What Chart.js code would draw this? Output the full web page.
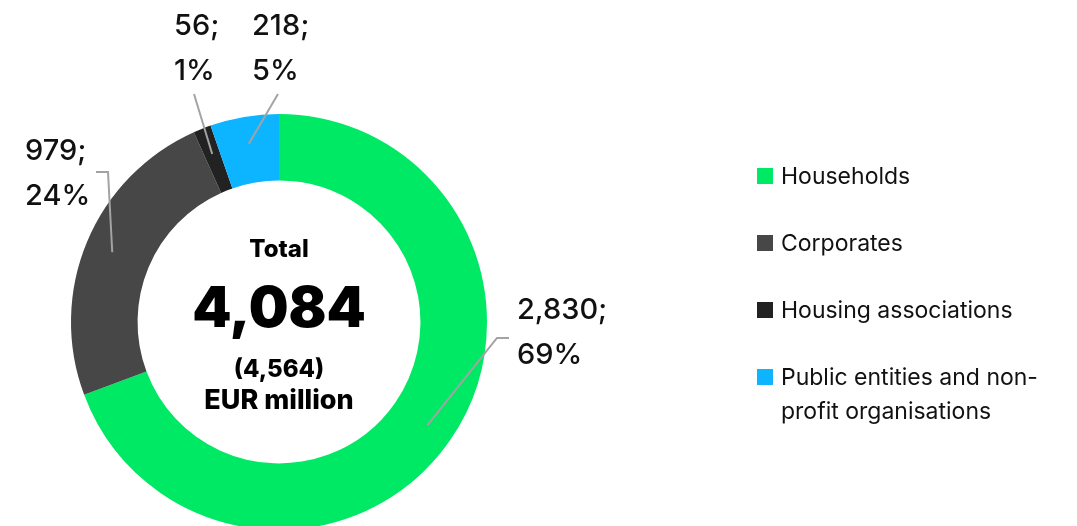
<!DOCTYPE html>
<html lang="en">
<head>
    <meta charset="UTF-8">
    <title>Loans by customer group</title>
    <script src="https://cdn.jsdelivr.net/npm/chart.js"></script>
    <style>
        html, body {
            margin: 0;
            padding: 0;
            background: #fff;
            overflow: hidden;
        }
        #wrap {
            position: absolute;
            left: 0;
            top: 0;
            width: 1077px;
            height: 540px;
        }
        #legend {
            position: absolute;
            left: 757px;
            top: 159px;
            width: 310px;
            font-family: "Inter", "Liberation Sans", sans-serif;
            font-size: 23px;
            color: #111;
        }
        .item {
            position: relative;
            padding-left: 24px;
            line-height: 34px;
            margin-bottom: 33px;
        }
        .swatch {
            position: absolute;
            left: 0;
            top: 9px;
            width: 16px;
            height: 16px;
        }
    </style>
</head>
<body>
    <div id="wrap"><canvas id="loanChart" width="1077" height="540"></canvas></div>
    <div id="legend"></div>

    <script>
        const categories = ['Households', 'Corporates', 'Housing associations', 'Public entities and non-profit organisations'];
        const amounts = [2830, 979, 56, 218];
        const shares = ['69%', '24%', '1%', '5%'];
        const colors = ['#00e965', '#474747', '#222222', '#0db4ff'];
        const totalText = '4,084';
        const lastYearText = '(4,564)';

        // where each label sits, relative to the chart centre (style only)
        const labelStyle = [
            { tx: 238, ty: -12, elbow: [218, 16], bend: [230, 16] },
            { tx: -254, ty: -171, elbow: [-171, -150], bend: [-183, -150] },
            { tx: -105, ty: -296, elbow: [-85, -228] },
            { tx: -27, ty: -296, elbow: [-1, -228] }
        ];

        // Data labels, leader lines and centre text
        const overlay = {
            id: 'overlay',
            afterDraw(chart) {
                const ctx = chart.ctx;
                const arcs = chart.getDatasetMeta(0).data;
                const cx = arcs[0].x, cy = arcs[0].y;
                ctx.save();
                arcs.forEach((arc, i) => {
                    const p = arc.getProps(['startAngle', 'endAngle', 'innerRadius', 'outerRadius']);
                    const mid = (p.startAngle + p.endAngle) / 2;
                    const r = (p.innerRadius + p.outerRadius) / 2 + 6;
                    const ax = cx + Math.cos(mid) * r;
                    const ay = cy + Math.sin(mid) * r;
                    const s = labelStyle[i];
                    ctx.strokeStyle = '#a3a3a3';
                    ctx.lineWidth = 2;
                    ctx.beginPath();
                    if (s.bend) {
                        ctx.moveTo(cx + s.bend[0], cy + s.bend[1]);
                        ctx.lineTo(cx + s.elbow[0], cy + s.elbow[1]);
                    } else {
                        ctx.moveTo(cx + s.elbow[0], cy + s.elbow[1]);
                    }
                    ctx.lineTo(ax, ay);
                    ctx.stroke();

                    ctx.fillStyle = '#111';
                    ctx.font = '500 29px Inter, "Liberation Sans", sans-serif';
                    ctx.textAlign = 'left';
                    ctx.textBaseline = 'middle';
                    ctx.fillText(amounts[i].toLocaleString('en-US') + ';', cx + s.tx, cy + s.ty);
                    ctx.fillText(shares[i], cx + s.tx, cy + s.ty + 45);
                });

                ctx.textAlign = 'center';
                ctx.textBaseline = 'middle';
                ctx.fillStyle = '#000';
                ctx.font = '800 24px Inter, "Liberation Sans", sans-serif';
                ctx.fillText('Total', cx, cy - 72);
                ctx.font = '900 56px Inter, "Liberation Sans", sans-serif';
                ctx.fillText(totalText, cx, cy - 12);
                ctx.font = '800 24px Inter, "Liberation Sans", sans-serif';
                ctx.fillText(lastYearText, cx, cy + 48);
                ctx.font = '800 27px Inter, "Liberation Sans", sans-serif';
                ctx.fillText('EUR million', cx, cy + 79);
                ctx.restore();
            }
        };

        function buildLegend() {
            document.getElementById('legend').innerHTML = categories.map((c, i) =>
                `<div class="item"><span class="swatch" style="background:${colors[i]}"></span>${c}</div>`
            ).join('');
        }

        function drawChart() {
            const ctx = document.getElementById('loanChart').getContext('2d');
            new Chart(ctx, {
                type: 'doughnut',
                data: {
                    labels: categories,
                    datasets: [{
                        data: amounts,
                        backgroundColor: colors,
                        borderWidth: 0
                    }]
                },
                options: {
                    responsive: false,
                    animation: false,
                    cutout: '68%',
                    layout: {
                        padding: { left: 71, right: 590, top: 114, bottom: 10 }
                    },
                    plugins: {
                        legend: { display: false },
                        tooltip: { enabled: false }
                    }
                },
                plugins: [overlay]
            });
        }

        buildLegend();
        drawChart();
    </script>
</body>
</html>
